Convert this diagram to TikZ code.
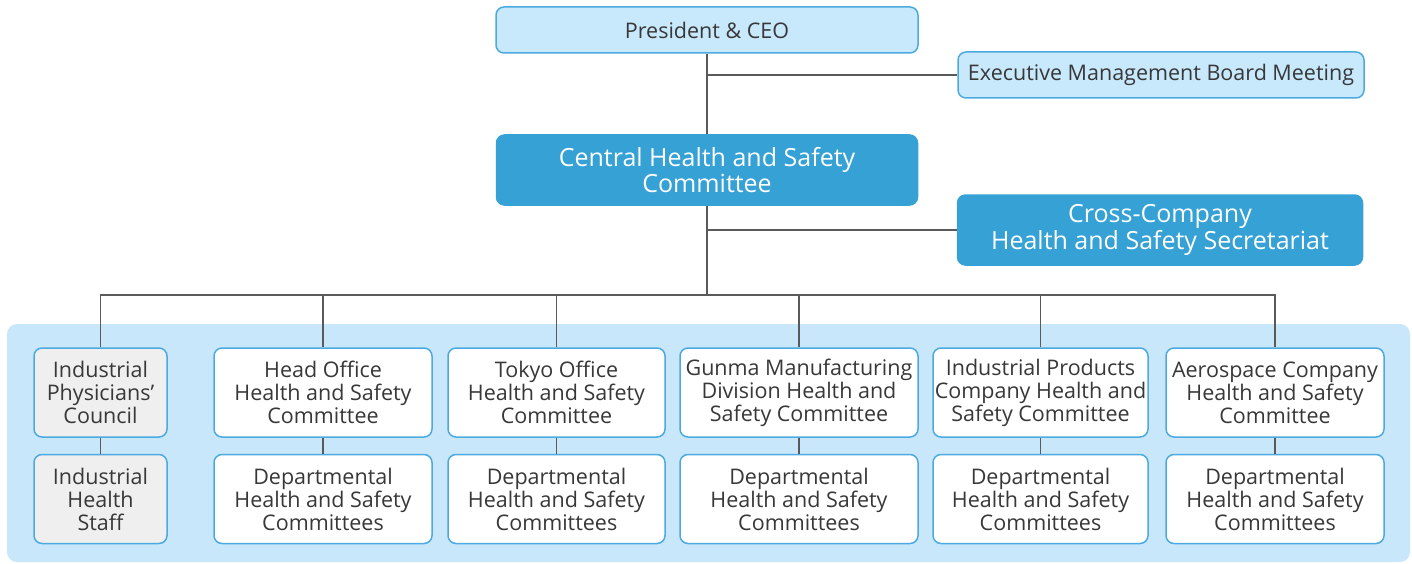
\documentclass[tikz,border=0pt]{standalone}
\usepackage{fontspec}
\setmainfont{Open Sans}
\usetikzlibrary{positioning}
\definecolor{lightfill}{HTML}{C8E8FC}
\definecolor{frame}{HTML}{4CAAE0}
\definecolor{darkfill}{HTML}{36A1D5}
\definecolor{grayfill}{HTML}{EFEFEF}
\definecolor{panel}{HTML}{C9E7FB}
\definecolor{linecol}{HTML}{5A5A5A}
\definecolor{textcol}{HTML}{383838}
\tikzset{
  box/.style={draw=frame, line width=1.5pt, rounded corners=8pt, align=center,
    text=textcol, font=\fontsize{21.5}{23}\selectfont, inner sep=0pt},
  topbox/.style={box, fill=lightfill},
  keybox/.style={box, fill=darkfill, draw=darkfill, text=white,
    font=\fontsize{25}{23.5}\selectfont},
  unitbox/.style={box, fill=white, minimum height=89pt},
  medbox/.style={box, fill=grayfill, minimum height=89pt, minimum width=133pt},
  link/.style={draw=linecol, line width=1.6pt}
}
\begin{document}
\begin{tikzpicture}[x=1pt,y=-1pt]
 \useasboundingbox (0,0) rectangle (1412,564);
 \fill[panel, rounded corners=10pt] (7,324) rectangle (1410,562);

 \node[topbox, minimum width=422pt, minimum height=46pt] (ceo) at (707,30) {President \& CEO};
 \node[topbox, minimum width=406pt, minimum height=46pt] (board) at (1161,75) {Executive Management Board Meeting};
 \node[keybox, minimum width=421pt, minimum height=70pt] (central) at (707,170) {Central Health and Safety\\Committee};
 \node[keybox, minimum width=405pt, minimum height=70pt] (secretariat) at (1160,230) {Cross-Company\\Health and Safety Secretariat};

 % top row of committees
 \node[medbox] (council) at (100.5,392.5) {Industrial\\Physicians’\\Council};
 \node[unitbox, minimum width=218pt] (head) at (323,392.5) {Head Office\\Health and Safety\\Committee};
 \node[unitbox, minimum width=217pt] (tokyo) at (556.5,392.5) {Tokyo Office\\Health and Safety\\Committee};
 \node[unitbox, minimum width=238pt] (gunma) at (799,392.5) {Gunma Manufacturing\\Division Health and\\Safety Committee};
 \node[unitbox, minimum width=215pt] (products) at (1040.5,392.5) {Industrial Products\\Company Health and\\Safety Committee};
 \node[unitbox, minimum width=218pt] (aero) at (1275,392.5) {Aerospace Company\\Health and Safety\\Committee};

 % bottom row
 \node[medbox, below=16pt of council] (staff) {Industrial\\Health\\Staff};
 \node[unitbox, minimum width=218pt, below=16pt of head] (headdept) {Departmental\\Health and Safety\\Committees};
 \node[unitbox, minimum width=217pt, below=16pt of tokyo] (tokyodept) {Departmental\\Health and Safety\\Committees};
 \node[unitbox, minimum width=238pt, below=16pt of gunma] (gunmadept) {Departmental\\Health and Safety\\Committees};
 \node[unitbox, minimum width=215pt, below=16pt of products] (productsdept) {Departmental\\Health and Safety\\Committees};
 \node[unitbox, minimum width=218pt, below=16pt of aero] (aerodept) {Departmental\\Health and Safety\\Committees};

 % connectors
 \coordinate (bus) at (707,295);
 \draw[link] (ceo.south) -- (central.north);
 \draw[link] (ceo.south |- board.west) -- (board.west);
 \draw[link] (central.south) -- (bus);
 \draw[link] (central.south |- secretariat.west) -- (secretariat.west);
 \draw[link] (council.north) |- (bus) -| (aero.north);
 \foreach \u in {head,tokyo,gunma,products}
   \draw[link] (\u.north) -- (\u.north |- bus);
 \draw[link] (council) -- (staff);
 \foreach \u in {head,tokyo,gunma,products,aero}
   \draw[link] (\u) -- (\u dept);
\end{tikzpicture}
\end{document}
